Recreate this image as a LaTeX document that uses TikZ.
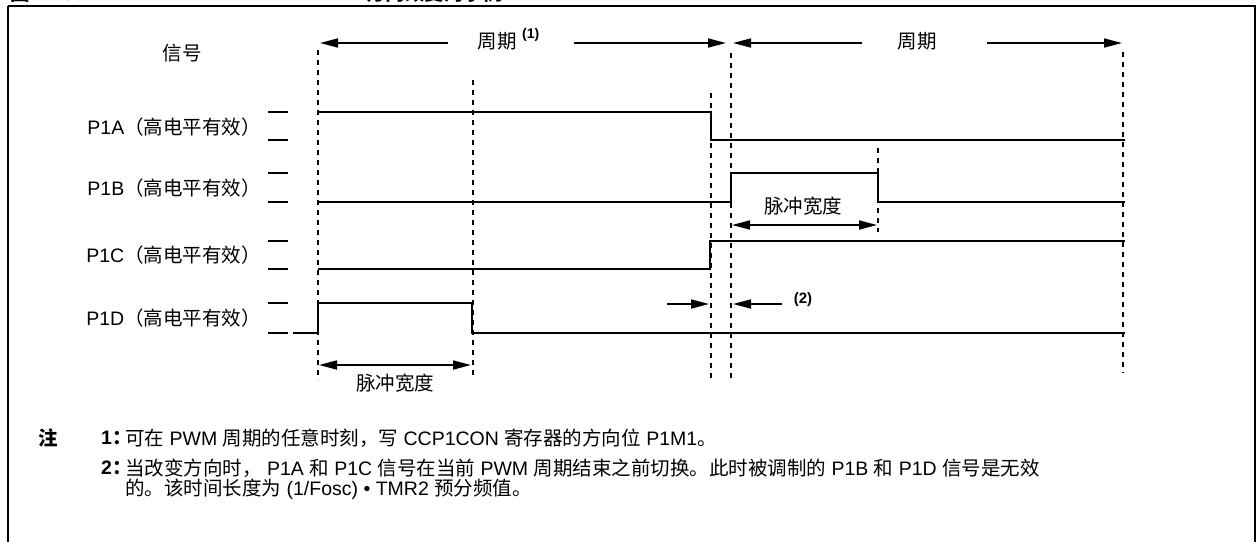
\documentclass[tikz,border=0pt]{standalone}
\usepackage{fontspec}
\setmainfont{Liberation Sans}
\newfontfamily\cjk{Noto Sans CJK SC}
\usetikzlibrary{arrows.meta}
\newcommand\zh[1]{{\cjk #1}}
\tikzset{
  wave/.style={line width=1.7pt, line join=miter},
  guide/.style={line width=1.7pt, dash pattern=on 5pt off 5pt},
  tick/.style={line width=1.7pt},
  dimarrow/.style={line width=1.7pt, -{Triangle[length=18pt,width=9pt]}},
  dimboth/.style={line width=1.7pt, {Triangle[length=18pt,width=9pt]}-{Triangle[length=18pt,width=9pt]}},
  lbl/.style={font=\fontsize{19.5}{23}\selectfont, inner sep=0pt},
  sup/.style={font=\fontsize{14}{16}\selectfont\bfseries, inner sep=0pt},
  frame/.style={line width=2pt}
}
\begin{document}
\begin{tikzpicture}[x=1pt,y=-1pt]
\useasboundingbox (0,0) rectangle (1258,541);
\fill[white] (0,0) rectangle (1258,541);
% clipped title
\node[lbl, font=\fontsize{19.5}{23}\selectfont\bfseries, anchor=base west] (title1) at (10,0.5) {\zh{图} 11-9\zh{：}};
\node[lbl, font=\fontsize{19.5}{23}\selectfont\bfseries, anchor=base east] (title2) at (503,0.5) {PWM \zh{方向改变的示例}};
% frame
\draw[frame] (8,6) -- (1255,6) -- (1255,560);
\draw[frame] (8,6) -- (8,560);
% time marker coordinates
\coordinate (a0) at (318,50);   \coordinate (b0) at (318,380);
\coordinate (a1) at (473,80);   \coordinate (b1) at (473,376);
\coordinate (a2) at (711,93);   \coordinate (b2) at (711,378);
\coordinate (a3) at (731,53);   \coordinate (b3) at (731,378);
\coordinate (a4) at (878,148);  \coordinate (b4) at (878,232);
\coordinate (a5) at (1123,52);  \coordinate (b5) at (1123,373);
\foreach \i in {0,...,5} { \draw[guide] (a\i) -- (b\i); }
% header
\node[lbl] (sig) at (182,53) {\zh{信号}};
\node[lbl] (per1) at (497,41) {\zh{周期}};
\node[sup, anchor=west] (per1s) at (522,35) {(1)};
\node[lbl] (per2) at (917,41) {\zh{周期}};
\coordinate (p1l) at (448,43); \coordinate (p1lt) at (320,43);
\coordinate (p1r) at (574,43); \coordinate (p1rt) at (726,43);
\coordinate (p2l) at (862,43); \coordinate (p2lt) at (733,43);
\coordinate (p2r) at (987,43); \coordinate (p2rt) at (1122,43);
\draw[dimarrow] (p1l) -- (p1lt);
\draw[dimarrow] (p1r) -- (p1rt);
\draw[dimarrow] (p2l) -- (p2lt);
\draw[dimarrow] (p2r) -- (p2rt);
% signal labels
\node[lbl, anchor=east] (la) at (261,127) {P1A\zh{（高电平有效）}};
\node[lbl, anchor=east] (lb) at (261,188) {P1B\zh{（高电平有效）}};
\node[lbl, anchor=east] (lc) at (261,255) {P1C\zh{（高电平有效）}};
\node[lbl, anchor=east] (ld) at (261,318) {P1D\zh{（高电平有效）}};
% level ticks
\foreach \y in {112,140,173,202,241,269,303,333} { \draw[tick] (268,\y) -- (288,\y); }
% waveforms
\draw[wave] (318,112) -- (711,112) -- (711,140) -- (1125,140);
\draw[wave] (318,202) -- (731,202) -- (731,173) -- (878,173) -- (878,202) -- (1125,202);
\draw[wave] (318,269) -- (710,269) -- (710,241) -- (1125,241);
\draw[wave] (293,333) -- (318,333) -- (318,303) -- (472,303) -- (472,333) -- (1125,333);
% pulse widths
\coordinate (pw1l) at (319,365); \coordinate (pw1r) at (471,365);
\draw[dimboth] (pw1l) -- (pw1r);
\node[lbl] (pw1) at (395,383) {\zh{脉冲宽度}};
\coordinate (pw2l) at (732,225); \coordinate (pw2r) at (877,225);
\draw[dimboth] (pw2l) -- (pw2r);
\node[lbl] (pw2) at (803,206) {\zh{脉冲宽度}};
% (2)
\coordinate (d2l) at (667,304); \coordinate (d2lt) at (709,304);
\coordinate (d2r) at (782,304); \coordinate (d2rt) at (733,304);
\draw[dimarrow] (d2l) -- (d2lt);
\draw[dimarrow] (d2r) -- (d2rt);
\node[sup, font=\fontsize{15}{17}\selectfont\bfseries] (n2) at (803,300) {(2)};
% notes
\node[lbl, font=\fontsize{19.5}{23}\selectfont\bfseries] (zhu) at (48,438) {\zh{注}};
\node[lbl, anchor=west, font=\fontsize{19.5}{23}\selectfont\bfseries] (k1) at (101,438) {1\zh{：}};
\node[lbl, anchor=west] (t1) at (125,438) {\zh{可在} PWM \zh{周期的任意时刻，写} CCP1CON \zh{寄存器的方向位} P1M1\zh{。}};
\node[lbl, anchor=west, font=\fontsize{19.5}{23}\selectfont\bfseries] (k2) at (101,468) {2\zh{：}};
\node[lbl, anchor=west] (t2) at (125,468) {\zh{当改变方向时，} P1A \zh{和} P1C \zh{信号在当前} PWM \zh{周期结束之前切换。此时被调制的} P1B \zh{和} P1D \zh{信号是无效}};
\node[lbl, anchor=west] (t3) at (125,489) {\zh{的。该时间长度为} (1/Fosc) • TMR2 \zh{预分频值。}};
\end{tikzpicture}
\end{document}
